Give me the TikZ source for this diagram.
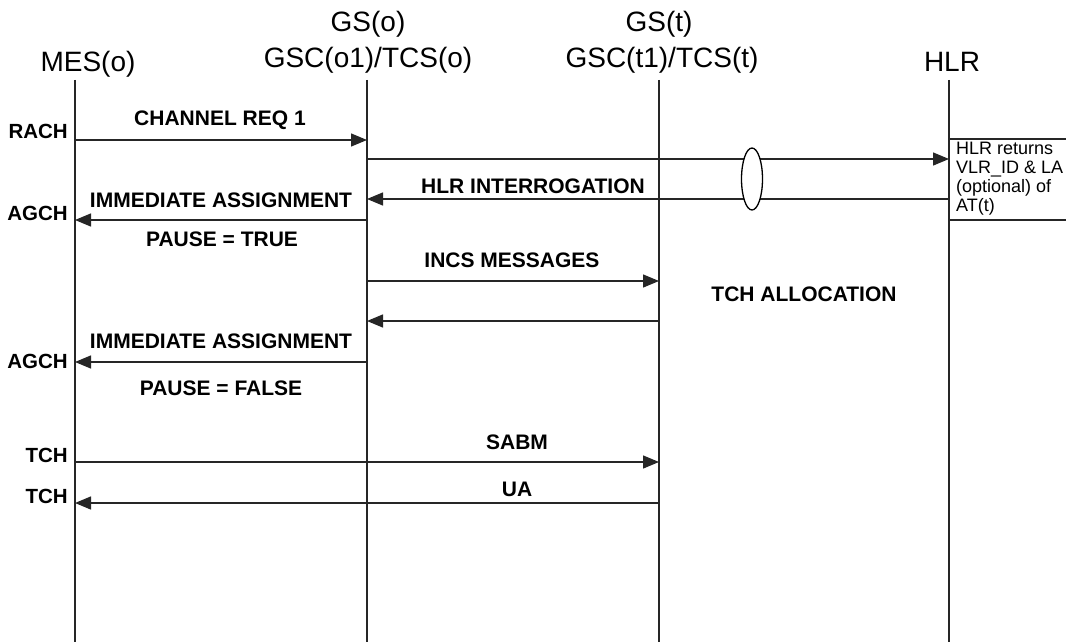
\documentclass[tikz,border=0pt]{standalone}
\usepackage{fontspec}
\setmainfont{Liberation Sans}
\usetikzlibrary{arrows.meta}
\begin{document}
\begin{tikzpicture}[x=1pt,y=-1pt,
  life/.style={line width=1.4pt,black!85},
  msg/.style={line width=1.4pt,black!85,-{Triangle[length=16pt,width=13pt]}},
  head/.style={font=\fontsize{28}{30}\selectfont,inner sep=0pt,anchor=base},
  lbl/.style={font=\fontsize{21}{23}\selectfont\bfseries,inner sep=0pt,anchor=base},
  chan/.style={font=\fontsize{20.5}{22}\selectfont\bfseries,inner sep=0pt,anchor=base east},
  note/.style={font=\fontsize{18}{19}\selectfont,inner sep=0pt,align=left,anchor=north west}
]
\useasboundingbox (0,0) rectangle (1066,642);
\fill[white] (0,0) rectangle (1066,642);
% headers
\node[head] (hmes) at (88,72) {MES(o)};
\node[head] (hgso1) at (368,32) {GS(o)};
\node[head] (hgso2) at (368,67) {GSC(o1)/TCS(o)};
\node[head] (hgst1) at (659,32) {GS(t)};
\node[head] (hgst2) at (662,67) {GSC(t1)/TCS(t)};
\node[head] (hhlr) at (952,72) {HLR};
% lifelines
\coordinate (mes) at (75,80);
\coordinate (gso) at (367,80);
\coordinate (gst) at (659,80);
\coordinate (hlr) at (949,80);
\coordinate (bot) at (0,642);
\draw[life] (mes) -- (mes |- bot);
\draw[life] (gso) -- (gso |- bot);
\draw[life] (gst) -- (gst |- bot);
\draw[life] (hlr) -- (hlr |- bot);
% rows
\coordinate (r1) at (0,140);
\coordinate (r2) at (0,159);
\coordinate (r3) at (0,199);
\coordinate (r4) at (0,220);
\coordinate (r5) at (0,281);
\coordinate (r6) at (0,321);
\coordinate (r7) at (0,362);
\coordinate (r8) at (0,462);
\coordinate (r9) at (0,503);
% HLR box
\coordinate (bxt) at (1066,139);
\coordinate (bxb) at (1066,220);
\draw[life] (bxt) -- (hlr |- bxt);
\draw[life] (bxb) -- (hlr |- bxb);
\node[note] (hlrnote) at (956,142) {HLR returns\\VLR\_ID \& LA\\(optional) of\\AT(t)};
% messages
\draw[msg] (mes |- r1) -- (gso |- r1);
\draw[msg] (gso |- r2) -- (hlr |- r2);
\draw[msg] (hlr |- r3) -- (gso |- r3);
\draw[msg] (gso |- r4) -- (mes |- r4);
\draw[msg] (gso |- r5) -- (gst |- r5);
\draw[msg] (gst |- r6) -- (gso |- r6);
\draw[msg] (gso |- r7) -- (mes |- r7);
\draw[msg] (mes |- r8) -- (gst |- r8);
\draw[msg] (gst |- r9) -- (mes |- r9);
% ellipse
\draw[line width=1.3pt,fill=white] (752,179) ellipse [x radius=10.5, y radius=31];
% labels
\node[lbl] (l1) at (220,125) {CHANNEL REQ 1};
\node[chan] (c1) at (68,139) {RACH};
\node[lbl] (l3) at (533,193) {HLR INTERROGATION};
\node[lbl] (l4) at (221,207) {IMMEDIATE ASSIGNMENT};
\node[chan] (c4) at (68,220) {AGCH};
\node[lbl] (l4b) at (222,246) {PAUSE = TRUE};
\node[lbl] (l5) at (512,267) {INCS MESSAGES};
\node[lbl] (tch) at (804,301) {TCH ALLOCATION};
\node[lbl] (l7) at (221,348) {IMMEDIATE ASSIGNMENT};
\node[chan] (c7) at (68,368) {AGCH};
\node[lbl] (l7b) at (221,395) {PAUSE = FALSE};
\node[lbl] (l8) at (517,449) {SABM};
\node[chan] (c8) at (68,462) {TCH};
\node[lbl] (l9) at (517,496) {UA};
\node[chan] (c9) at (68,503) {TCH};
\end{tikzpicture}
\end{document}
